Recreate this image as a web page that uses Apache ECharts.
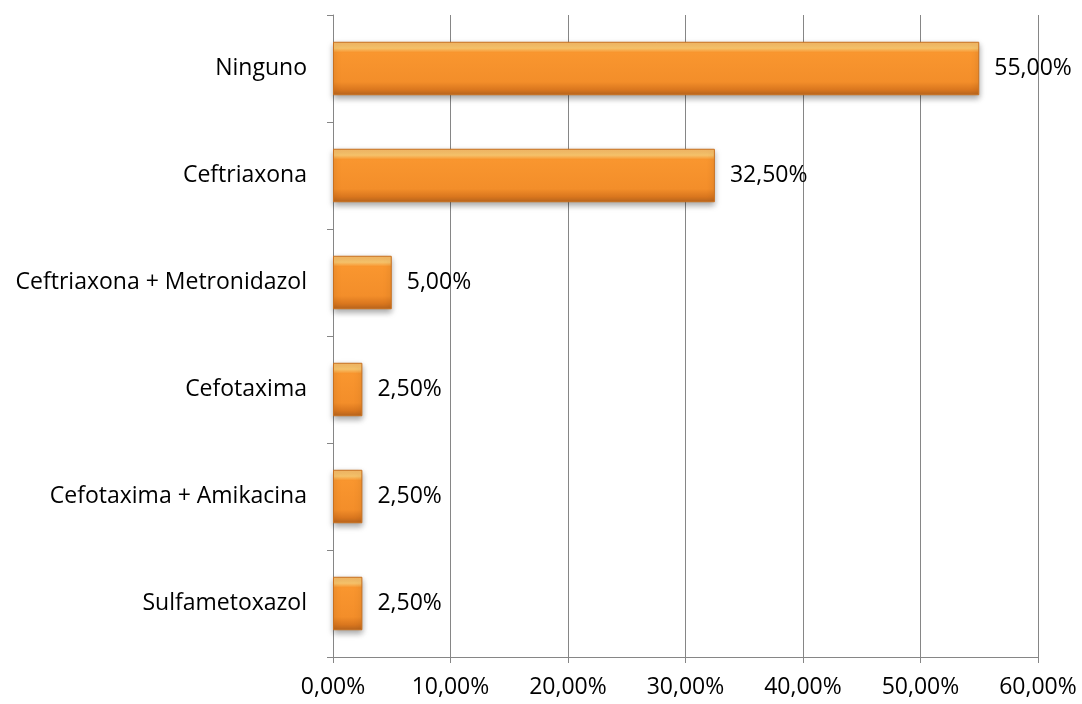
<!DOCTYPE html>
<html>
<head>
<meta charset="utf-8">
<script src="https://cdn.jsdelivr.net/npm/echarts@6/dist/echarts.min.js"></script>
<style>
  html, body { margin: 0; padding: 0; background: #fff; }
  #chart { width: 1082px; height: 704px; }
</style>
</head>
<body>
<div id="chart"></div>
<script>
// Antibiotic treatment shares (percent)
const categories = ['Ninguno', 'Ceftriaxona', 'Ceftriaxona + Metronidazol', 'Cefotaxima', 'Cefotaxima + Amikacina', 'Sulfametoxazol'];
const values = [55.0, 32.5, 5.0, 2.5, 2.5, 2.5];
const xTicks = [0, 10, 20, 30, 40, 50, 60];

const fmt = v => v.toFixed(2).replace('.', ',') + '%';
const FONT = 'Open Sans';
const FS = 23;

const chart = echarts.init(document.getElementById('chart'));
chart.setOption({
  animation: false,
  grid: { left: 333, right: 44, top: 15, bottom: 47 },
  xAxis: {
    type: 'value',
    min: xTicks[0],
    max: xTicks[xTicks.length - 1],
    interval: 10,
    axisLine: { show: true, lineStyle: { color: '#868686', width: 1 } },
    axisTick: { show: true, length: 6, lineStyle: { color: '#868686' } },
    splitLine: { show: true, lineStyle: { color: '#868686', width: 1 } },
    axisLabel: { formatter: v => fmt(v), color: '#000', fontFamily: FONT, fontSize: FS, margin: 19 }
  },
  yAxis: {
    type: 'category',
    data: categories,
    inverse: true,
    axisLine: { show: true, lineStyle: { color: '#868686', width: 1 } },
    axisTick: { show: true, length: 6, lineStyle: { color: '#868686' } },
    axisLabel: { color: '#000', fontFamily: FONT, fontSize: FS, margin: 26 }
  },
  series: [{
    type: 'bar',
    data: values,
    barWidth: '50%',
    itemStyle: {
      color: new echarts.graphic.LinearGradient(0, 0, 0, 1, [
        { offset: 0, color: '#F6B865' },
        { offset: 0.12, color: '#FCC86E' },
        { offset: 0.2, color: '#F9962F' },
        { offset: 0.75, color: '#F38E2A' },
        { offset: 0.9, color: '#D9761E' },
        { offset: 1, color: '#B8651E' }
      ]),
      borderColor: '#C8701F',
      borderWidth: 1,
      shadowColor: 'rgba(0,0,0,0.35)',
      shadowBlur: 6,
      shadowOffsetY: 3
    },
    label: {
      show: true,
      position: 'right',
      distance: 15,
      formatter: p => fmt(p.value),
      color: '#000',
      fontFamily: FONT,
      fontSize: FS
    }
  }]
});
</script>
</body>
</html>
